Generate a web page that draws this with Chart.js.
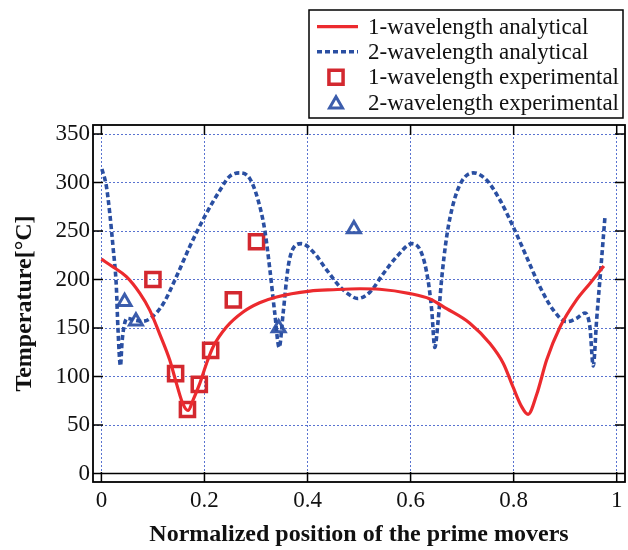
<!DOCTYPE html>
<html>
<head>
<meta charset="utf-8">
<script src="https://cdn.jsdelivr.net/npm/chart.js@4/dist/chart.umd.min.js"></script>
<style>
  html, body { margin: 0; padding: 0; background: #fff; }
  #wrap { width: 628px; height: 550px; }
</style>
</head>
<body>
<div id="wrap"><canvas id="chart" width="628" height="550"></canvas></div>
<script>
// normalized position (x) and temperature (y)
const oneWaveX = [0, 0.0225, 0.0485, 0.0744, 0.0938, 0.113, 0.1326, 0.1456, 0.158, 0.168,
  0.178, 0.191, 0.204, 0.2167, 0.2427, 0.275, 0.307, 0.34, 0.4045, 0.45, 0.5016, 0.54,
  0.599, 0.6375, 0.67, 0.715, 0.754, 0.78, 0.799, 0.8155, 0.828, 0.845, 0.864, 0.89,
  0.922, 0.948, 0.975];
const oneWaveT = [221, 213, 203, 186, 168.5, 144, 117, 93, 72, 65,
  76, 93, 113.5, 130.5, 151, 166.5, 176, 182, 188, 189.5, 190.5, 190,
  185.5, 180, 170, 155, 134, 113.5, 89, 69, 61, 82, 117, 151,
  179, 196, 214];

const twoWaveX = [0.001, 0.0097, 0.0163, 0.0225, 0.029, 0.032, 0.037, 0.040, 0.044, 0.05,
  0.065, 0.08, 0.095, 0.12, 0.1456, 0.1715, 0.2, 0.23, 0.248, 0.2685, 0.288, 0.304,
  0.317, 0.327, 0.3365, 0.345, 0.3526, 0.3624, 0.372, 0.388, 0.411, 0.437, 0.463,
  0.482, 0.497, 0.521, 0.547, 0.573, 0.603, 0.6215, 0.634, 0.641, 0.647, 0.6535,
  0.66, 0.67, 0.683, 0.699, 0.7216, 0.7476, 0.7734, 0.799, 0.825, 0.851, 0.877,
  0.903, 0.922, 0.9385, 0.948, 0.9545, 0.961, 0.969, 0.9773];
const twoWaveT = [314, 296, 268, 234, 192.5, 151, 111, 135, 152, 160,
  158, 157, 160, 175, 203, 234, 264.5, 292, 306, 310, 304, 282,
  251, 210, 165, 130, 165, 213, 232, 237, 228.5, 210, 192.5,
  184, 180.5, 187, 206, 223.5, 237, 227, 199, 168.5, 130, 158,
  199, 244, 278.5, 301, 310, 302.5, 282, 254.5, 223.5, 192.5, 168.5,
  156.5, 160, 165.5, 151, 111, 158, 210, 265];

const oneExpX = [0.100, 0.144, 0.167, 0.190, 0.212, 0.256, 0.301];
const oneExpT = [200, 103, 66, 92, 127, 179, 239];

const twoExpX = [0.045, 0.067, 0.344, 0.490];
const twoExpT = [177, 157, 150, 252];

const xTicks = [0, 0.2, 0.4, 0.6, 0.8, 1];
const yTicks = [0, 50, 100, 150, 200, 250, 300, 350];

const serif = "'Liberation Serif', 'Times New Roman', serif";

function pairs(xs, ys) {
  return xs.map((x, i) => ({ x: x, y: ys[i] }));
}

// frame, inner tick marks and the solid zero line
const framePlugin = {
  id: 'frame',
  afterDraw(chart) {
    const ctx = chart.ctx;
    const a = chart.chartArea;
    const xs = chart.scales.x, ys = chart.scales.y;
    const len = 10;
    ctx.save();
    ctx.strokeStyle = '#000';
    ctx.lineWidth = 1.5;
    ctx.beginPath();
    const y0 = ys.getPixelForValue(0);
    ctx.moveTo(a.left, y0);
    ctx.lineTo(a.right, y0);
    xTicks.forEach(v => {
      const px = xs.getPixelForValue(v);
      ctx.moveTo(px, a.bottom); ctx.lineTo(px, a.bottom - len);
      ctx.moveTo(px, a.top); ctx.lineTo(px, a.top + len);
    });
    yTicks.forEach(v => {
      const py = ys.getPixelForValue(v);
      ctx.moveTo(a.left, py); ctx.lineTo(a.left + len, py);
      ctx.moveTo(a.right, py); ctx.lineTo(a.right - len, py);
    });
    ctx.stroke();
    ctx.lineWidth = 1.8;
    ctx.strokeRect(a.left, a.top, a.right - a.left, a.bottom - a.top);
    ctx.restore();
  }
};

// boxed legend in the upper right
const legendPlugin = {
  id: 'boxLegend',
  afterDraw(chart) {
    const ctx = chart.ctx;
    const box = { left: 309, top: 10, right: 623, bottom: 118 };
    ctx.save();
    ctx.fillStyle = '#fff';
    ctx.fillRect(box.left, box.top, box.right - box.left, box.bottom - box.top);
    ctx.strokeStyle = '#000';
    ctx.lineWidth = 1.5;
    ctx.strokeRect(box.left, box.top, box.right - box.left, box.bottom - box.top);
    const rows = [26.7, 51.7, 77.3, 102.7];
    ctx.textBaseline = 'middle';
    ctx.textAlign = 'left';
    chart.data.datasets.forEach((ds, i) => {
      const y = rows[i];
      ctx.strokeStyle = ds.borderColor;
      if (ds.showLine) {
        ctx.lineWidth = ds.borderWidth;
        ctx.setLineDash(ds.borderDash || []);
        ctx.beginPath();
        ctx.moveTo(317, y);
        ctx.lineTo(358, y);
        ctx.stroke();
        ctx.setLineDash([]);
      } else {
        ctx.fillStyle = 'rgba(0,0,0,0)';
        ctx.lineWidth = ds.pointBorderWidth;
        Chart.helpers.drawPoint(ctx, {
          pointStyle: ds.pointStyle, radius: ds.pointRadius, borderWidth: ds.pointBorderWidth, rotation: 0
        }, 336, ds.pointStyle === 'triangle' ? y + 1.5 : y);
      }
      ctx.font = '23px ' + serif;
      ctx.fillStyle = '#111';
      ctx.fillText(ds.label, 368, y + 1);
    });
    ctx.restore();
  }
};

new Chart(document.getElementById('chart'), {
  type: 'scatter',
  data: {
    datasets: [
      {
        label: '1-wavelength analytical',
        data: pairs(oneWaveX, oneWaveT),
        showLine: true,
        borderColor: '#ec2a2e',
        borderWidth: 3.2,
        pointRadius: 0,
        cubicInterpolationMode: 'monotone'
      },
      {
        label: '2-wavelength analytical',
        data: pairs(twoWaveX, twoWaveT),
        showLine: true,
        borderColor: '#2a4fa2',
        borderWidth: 3.6,
        borderDash: [5, 3],
        pointRadius: 0,
        cubicInterpolationMode: 'monotone'
      },
      {
        label: '1-wavelength experimental',
        data: pairs(oneExpX, oneExpT),
        showLine: false,
        pointStyle: 'rect',
        pointRadius: 10,
        pointBorderWidth: 3.5,
        borderColor: '#d3282f',
        backgroundColor: 'rgba(0,0,0,0)'
      },
      {
        label: '2-wavelength experimental',
        data: pairs(twoExpX, twoExpT),
        showLine: false,
        pointStyle: 'triangle',
        pointRadius: 7.5,
        pointBorderWidth: 3,
        borderColor: '#3c5dac',
        backgroundColor: 'rgba(0,0,0,0)'
      }
    ]
  },
  options: {
    responsive: false,
    animation: false,
    layout: { autoPadding: false, padding: { top: 125, right: 3, left: 0, bottom: 0 } },
    plugins: {
      legend: { display: false },
      tooltip: { enabled: false }
    },
    scales: {
      x: {
        type: 'linear',
        min: -0.0163,
        max: 1.0161,
        afterFit(scale) {
          scale.height = 68;
          scale.paddingLeft = 0;
          scale.paddingRight = 0;
        },
        afterBuildTicks(scale) { scale.ticks = xTicks.map(v => ({ value: v })); },
        ticks: {
          font: { family: serif, size: 23 },
          color: '#111',
          padding: 5,
          maxRotation: 0,
          callback: v => String(v)
        },
        grid: { color: 'rgba(60,90,200,0.85)', lineWidth: 1, drawTicks: false },
        border: { display: false, dash: [2, 2] },
        title: {
          display: true,
          text: 'Normalized position of the prime movers',
          font: { family: serif, size: 24, weight: 'bold' },
          color: '#111',
          padding: { top: 0, bottom: 1 }
        }
      },
      y: {
        type: 'linear',
        min: -8.7,
        max: 359.3,
        afterFit(scale) {
          scale.width = 93;
          scale.paddingTop = 0;
          scale.paddingBottom = 0;
        },
        afterBuildTicks(scale) { scale.ticks = yTicks.map(v => ({ value: v })); },
        ticks: {
          font: { family: serif, size: 23 },
          color: '#111',
          padding: 3
        },
        grid: { color: 'rgba(60,90,200,0.85)', lineWidth: 1, drawTicks: false },
        border: { display: false, dash: [2, 2] },
        title: {
          display: true,
          text: 'Temperature[°C]',
          font: { family: serif, size: 24, weight: 'bold' },
          color: '#111',
          padding: { top: 10, bottom: 0 }
        }
      }
    }
  },
  plugins: [framePlugin, legendPlugin]
});
</script>
</body>
</html>
